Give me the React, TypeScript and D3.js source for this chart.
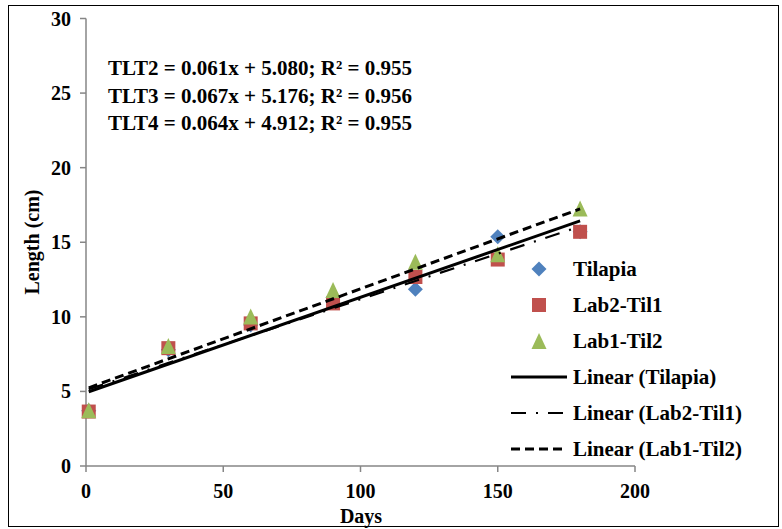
import React from 'react';
import * as d3 from 'd3';

const days = [1, 30, 60, 90, 120, 150, 180];
const tilapia = [3.7, 7.8, 9.45, 11.3, 11.85, 15.37, 15.7];
const lab2til1 = [3.65, 7.9, 9.56, 10.9, 12.67, 13.84, 15.7];
const lab1til2 = [3.74, 8.04, 10.02, 11.8, 13.7, 14.2, 17.26];
const xTicks = [0, 50, 100, 150, 200];
const yTicks = [0, 5, 10, 15, 20, 25, 30];
// trend lines: Tilapia, Lab2-Til1, Lab1-Til2
const trendSlopes = [0.064, 0.061, 0.067];
const trendIntercepts = [4.912, 5.08, 5.176];
const equations = [
  'TLT2 = 0.061x + 5.080; R² = 0.955',
  'TLT3 = 0.067x + 5.176; R² = 0.956',
  'TLT4 = 0.064x + 4.912; R² = 0.955',
];
const seriesNames = ['Tilapia', 'Lab2-Til1', 'Lab1-Til2'];
const trendNames = ['Linear (Tilapia)', 'Linear (Lab2-Til1)', 'Linear (Lab1-Til2)'];

const FONT = "'Liberation Serif', 'Times New Roman', 'DejaVu Serif', serif";
const BLUE = '#4F81BD';
const RED = '#C0504D';
const GREEN = '#9BBB59';
const AXIS = '#868686';

const trendStyles = [
  { w: 3, dash: undefined as string | undefined },
  { w: 2.2, dash: '15,10,2,10' },
  { w: 3, dash: '9,5' },
];

function Diamond({ cx, cy }: { cx: number; cy: number }) {
  const r = 7.5;
  return <path d={`M${cx},${cy - r}L${cx + r},${cy}L${cx},${cy + r}L${cx - r},${cy}Z`} fill={BLUE} />;
}
function Square({ cx, cy }: { cx: number; cy: number }) {
  const s = 14;
  return <rect x={cx - s / 2} y={cy - s / 2} width={s} height={s} fill={RED} />;
}
function Triangle({ cx, cy }: { cx: number; cy: number }) {
  const h = 16;
  const w = 15;
  return <path d={`M${cx},${cy - h / 2}L${cx + w / 2},${cy + h / 2}L${cx - w / 2},${cy + h / 2}Z`} fill={GREEN} />;
}

export default function App() {
  const x = d3.scaleLinear().domain([0, 200]).range([86, 635]);
  const y = d3.scaleLinear().domain([0, 30]).range([466, 18.5]);

  const trendPath = (k: number) => {
    const xs = [days[0], days[days.length - 1]];
    return d3
      .line<number>()
      .x((d) => x(d))
      .y((d) => y(trendSlopes[k] * d + trendIntercepts[k]))(xs) as string;
  };

  const legendX = 539;
  const legendTextX = 573;
  const legendRows = [269, 305, 341, 377, 413, 449];
  const txt = { fontFamily: FONT, fontWeight: 700 as const, fontSize: 20 };
  const big = { ...txt, fontSize: 21 };

  return (
    <svg
      width={782}
      height={529}
      style={{ position: 'absolute', left: 0, top: 0, background: '#fff' }}
    >
      <rect x={0} y={0} width={782} height={529} fill="#fff" />
      <rect x={8.5} y={5.5} width={770} height={521} fill="none" stroke="#000" strokeWidth={1} />

      {/* axes */}
      <line x1={x(0)} x2={x(0)} y1={y(30)} y2={y(0)} stroke={AXIS} strokeWidth={1.5} />
      <line x1={x(0)} x2={x(200)} y1={y(0)} y2={y(0)} stroke={AXIS} strokeWidth={1.5} />
      {yTicks.map((t) => (
        <g key={'y' + t}>
          <line x1={x(0) - 6} x2={x(0)} y1={y(t)} y2={y(t)} stroke={AXIS} strokeWidth={1.5} />
          <text x={71} y={y(t) + 7} textAnchor="end" style={txt}>
            {t}
          </text>
        </g>
      ))}
      {xTicks.map((t) => (
        <g key={'x' + t}>
          <line x1={x(t)} x2={x(t)} y1={y(0)} y2={y(0) + 6} stroke={AXIS} strokeWidth={1.5} />
          <text x={x(t)} y={498} textAnchor="middle" style={txt}>
            {t}
          </text>
        </g>
      ))}
      <text x={361} y={523} textAnchor="middle" style={txt}>
        Days
      </text>
      <text transform="translate(39,242) rotate(-90)" textAnchor="middle" style={txt}>
        Length (cm)
      </text>

      {/* markers */}
      {days.map((d, i) => (
        <Diamond key={'t' + i} cx={x(d)} cy={y(tilapia[i])} />
      ))}
      {days.map((d, i) => (
        <Square key={'s' + i} cx={x(d)} cy={y(lab2til1[i])} />
      ))}
      {days.map((d, i) => (
        <Triangle key={'g' + i} cx={x(d)} cy={y(lab1til2[i])} />
      ))}

      {/* trend lines */}
      {trendSlopes.map((_, k) => (
        <path
          key={'tr' + k}
          d={trendPath(k)}
          fill="none"
          stroke="#000"
          strokeWidth={trendStyles[k].w}
          strokeDasharray={trendStyles[k].dash}
        />
      ))}

      {/* equations */}
      {equations.map((e, i) => (
        <text key={'eq' + i} x={260} y={75 + i * 27.5} textAnchor="middle" style={big}>
          {e}
        </text>
      ))}

      {/* legend */}
      <Diamond cx={legendX} cy={legendRows[0]} />
      <Square cx={legendX} cy={legendRows[1]} />
      <Triangle cx={legendX} cy={legendRows[2]} />
      {seriesNames.map((n, i) => (
        <text key={'ln' + i} x={legendTextX} y={legendRows[i] + 7} style={big}>
          {n}
        </text>
      ))}
      {trendNames.map((n, i) => (
        <g key={'lt' + i}>
          <line
            x1={511}
            x2={567}
            y1={legendRows[i + 3]}
            y2={legendRows[i + 3]}
            stroke="#000"
            strokeWidth={trendStyles[i].w}
            strokeDasharray={trendStyles[i].dash}
          />
          <text x={legendTextX} y={legendRows[i + 3] + 7} style={big}>
            {n}
          </text>
        </g>
      ))}
    </svg>
  );
}
